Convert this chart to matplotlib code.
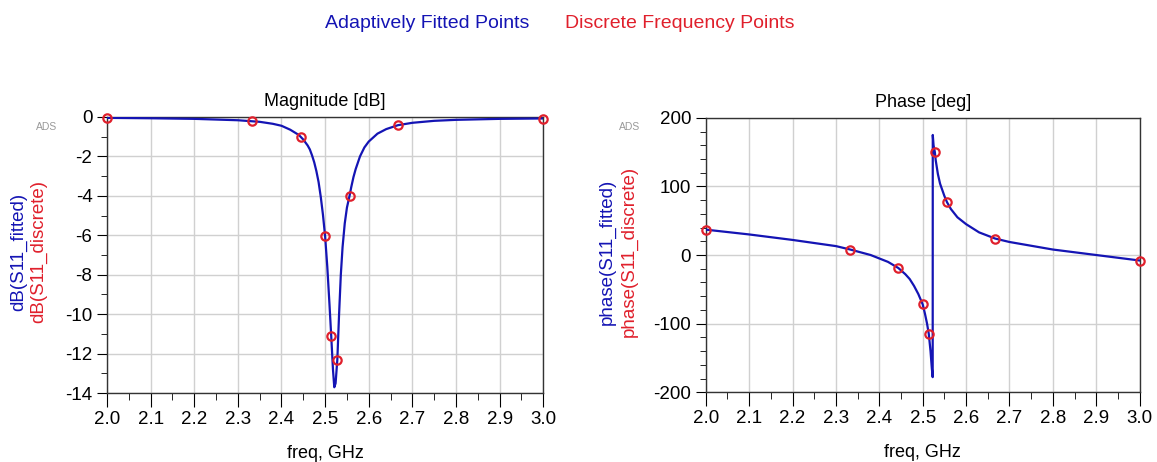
import matplotlib.pyplot as plt
from matplotlib.ticker import MultipleLocator

plt.rcParams['font.family'] = ['Liberation Sans', 'DejaVu Sans']
plt.rcParams['axes.unicode_minus'] = False

# discrete frequency points (GHz)
freq_disc = [2.0, 2.333, 2.444, 2.5, 2.514, 2.528, 2.556, 2.667, 3.0]
mag_disc = [-0.05, -0.2, -1.0, -6.05, -11.1, -12.3, -4.0, -0.4, -0.1]
phase_disc = [37, 8, -19, -72, -115, 150, 77, 24, -8]

# adaptively fitted curve
freq_mag = [2.0, 2.1, 2.2, 2.3, 2.35, 2.38, 2.4, 2.42, 2.44, 2.45, 2.46, 2.465,
            2.47, 2.475, 2.48, 2.485, 2.49, 2.495, 2.5, 2.505, 2.51, 2.514,
            2.518, 2.521, 2.524, 2.528, 2.532, 2.536, 2.54, 2.545, 2.55, 2.556,
            2.56, 2.565, 2.57, 2.58, 2.59, 2.6, 2.62, 2.64, 2.667, 2.7, 2.75,
            2.8, 2.9, 3.0]
mag_fit = [-0.05, -0.07, -0.1, -0.17, -0.25, -0.35, -0.45, -0.65, -0.92, -1.15,
           -1.45, -1.65, -1.95, -2.3, -2.75, -3.3, -4.05, -4.95, -6.05, -7.6,
           -9.5, -11.1, -12.8, -13.7, -13.5, -12.3, -10.0, -8.0, -6.6, -5.4,
           -4.6, -4.0, -3.55, -3.05, -2.65, -2.0, -1.55, -1.25, -0.85, -0.62,
           -0.42, -0.3, -0.2, -0.15, -0.1, -0.08]

freq_ph = [2.0, 2.1, 2.2, 2.3, 2.333, 2.38, 2.4, 2.42, 2.444, 2.46, 2.47, 2.48,
           2.49, 2.5, 2.505, 2.51, 2.514, 2.518, 2.521, 2.523, 2.5232, 2.525,
           2.528, 2.53, 2.535, 2.54, 2.55, 2.556, 2.565, 2.58, 2.6, 2.63, 2.667,
           2.7, 2.8, 2.9, 3.0]
phase_fit = [37, 30, 22, 13, 8, 0, -5, -10, -19, -28, -35, -45, -57, -72, -85,
             -100, -115, -140, -165, -178, 175, 160, 150, 138, 118, 104, 86, 77,
             67, 55, 45, 33, 24, 19, 8, 0, -8]

blue = '#1414b4'
red = '#e0202c'

fig = plt.figure(figsize=(11.57, 4.62), dpi=100)
ax1 = fig.add_axes([0.0925, 0.149, 0.377, 0.598])
ax2 = fig.add_axes([0.610, 0.151, 0.375, 0.594])

def style(ax, ymin, ymax, ymaj, ymin_step):
    ax.set_xlim(2.0, 3.0)
    ax.set_ylim(ymin, ymax)
    ax.xaxis.set_major_locator(MultipleLocator(0.1))
    ax.xaxis.set_minor_locator(MultipleLocator(0.05))
    ax.yaxis.set_major_locator(MultipleLocator(ymaj))
    ax.yaxis.set_minor_locator(MultipleLocator(ymin_step))
    ax.xaxis.set_major_formatter(plt.FormatStrFormatter('%.1f'))
    ax.grid(True, which='major', color='#d0d0d0', linewidth=1)
    ax.tick_params(axis='x', which='major', direction='out', length=10, labelsize=13.5, pad=3)
    ax.tick_params(axis='x', which='minor', direction='out', length=5)
    ax.tick_params(axis='y', which='major', direction='out', length=7, labelsize=13.5)
    ax.tick_params(axis='y', which='minor', direction='out', length=4)
    for s in ax.spines.values():
        s.set_color('#333333')
        s.set_linewidth(1)
    ax.set_xlabel('freq, GHz', fontsize=13, labelpad=12)

ax1.plot(freq_mag, mag_fit, color=blue, linewidth=1.6, zorder=3)
ax1.plot(freq_disc, mag_disc, linestyle='none', marker='o', markersize=6,
         markerfacecolor='none', markeredgecolor=red, markeredgewidth=1.6, zorder=4, clip_on=False)
style(ax1, -14, 0, 2, 1)
ax1.set_title('Magnitude [dB]', fontsize=13, pad=8)

ax2.plot(freq_ph, phase_fit, color=blue, linewidth=1.6, zorder=3)
ax2.plot(freq_disc, phase_disc, linestyle='none', marker='o', markersize=6,
         markerfacecolor='none', markeredgecolor=red, markeredgewidth=1.6, zorder=4, clip_on=False)
style(ax2, -200, 200, 100, 20)
ax2.set_title('Phase [deg]', fontsize=13, pad=8)

# two-colour y labels
fig.text(19 / 1157, 0.455, 'dB(S11_fitted)', color=blue, rotation=90, fontsize=13.5,
         ha='center', va='center')
fig.text(39 / 1157, 0.455, 'dB(S11_discrete)', color=red, rotation=90, fontsize=13.5,
         ha='center', va='center')
fig.text(607 / 1157, 0.455, 'phase(S11_fitted)', color=blue, rotation=90, fontsize=13.5,
         ha='center', va='center')
fig.text(629 / 1157, 0.455, 'phase(S11_discrete)', color=red, rotation=90, fontsize=13.5,
         ha='center', va='center')
fig.text(47 / 1157, 1 - 127 / 462, 'ADS', color='#999999', fontsize=7.5, ha='center', va='center')
fig.text(630 / 1157, 1 - 127 / 462, 'ADS', color='#999999', fontsize=7.5, ha='center', va='center')

# top legend
fig.text(427 / 1157, 1 - 24 / 462, 'Adaptively Fitted Points', color=blue, fontsize=14,
         ha='center', va='center')
fig.text(680 / 1157, 1 - 24 / 462, 'Discrete Frequency Points', color=red, fontsize=14,
         ha='center', va='center')

fig.savefig('out.png', dpi=100)
